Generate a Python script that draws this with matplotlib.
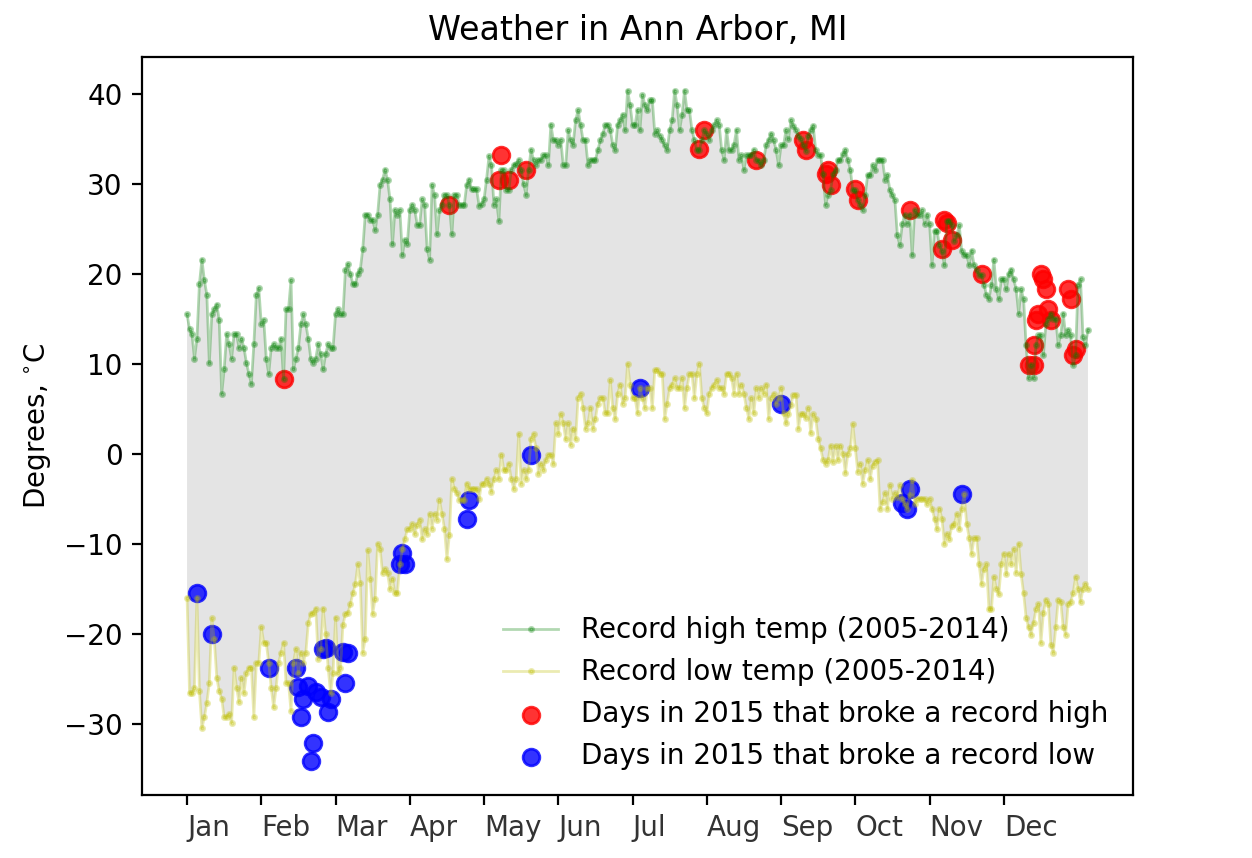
import matplotlib
matplotlib.use('Agg')
import matplotlib.pyplot as plt
import numpy as np

# record highs / lows per day of year (2005-2014)
highs = [
    15.5, 13.9, 13.3, 10.6, 12.8, 18.9, 21.6, 19.3, 17.7, 10.1,
    15.5, 16.1, 16.6, 14.9, 6.7, 9.4, 13.3, 12.2, 10.6, 13.3,
    13.3, 11.8, 12.8, 11.8, 10.1, 8.9, 7.8, 12.2, 17.7, 18.4,
    14.4, 14.9, 10.6, 8.9, 11.8, 12.2, 11.8, 11.8, 12.8, 8.3,
    16.1, 16.1, 19.3, 9.4, 10.6, 11.8, 14.4, 15.5, 14.4, 12.8,
    10.6, 10.1, 10.6, 12.2, 11.1, 9.4, 11.1, 12.2, 11.8, 11.8,
    15.5, 16.1, 15.5, 15.5, 20.5, 21.1, 20.0, 18.9, 18.9, 20.0,
    20.5, 22.8, 26.6, 26.6, 26.0, 26.0, 24.9, 26.6, 29.9, 30.5,
    31.6, 30.5, 28.3, 23.3, 27.1, 26.6, 27.1, 22.1, 23.8, 23.3,
    27.1, 27.7, 27.1, 25.5, 25.5, 28.3, 27.7, 22.8, 21.6, 29.9,
    28.8, 24.4, 27.1, 27.7, 28.8, 28.8, 27.7, 24.4, 28.8, 28.8,
    27.7, 27.7, 27.7, 29.9, 30.5, 29.4, 29.4, 29.4, 27.6, 27.8,
    28.3, 30.5, 33.1, 32.1, 27.7, 28.3, 25.9, 31.6, 31.6, 29.3,
    29.3, 31.6, 32.1, 32.2, 32.7, 31.6, 30.0, 28.8, 31.6, 33.8,
    32.7, 32.1, 32.7, 32.7, 33.2, 33.2, 32.1, 36.6, 34.9, 34.9,
    34.4, 34.9, 32.1, 32.1, 36.0, 34.9, 34.4, 37.1, 38.2, 36.6,
    34.9, 34.9, 32.1, 32.7, 32.7, 32.7, 33.8, 34.9, 35.6, 36.6,
    36.6, 36.0, 34.4, 33.8, 36.6, 37.1, 37.7, 36.0, 40.4, 38.8,
    36.6, 36.6, 38.2, 36.0, 39.9, 38.8, 38.2, 39.3, 39.3, 35.6,
    36.0, 35.4, 34.9, 34.3, 33.8, 36.0, 37.1, 40.4, 38.8, 36.0,
    37.7, 40.4, 38.2, 38.2, 36.0, 34.9, 33.8, 33.8, 34.9, 36.0,
    35.6, 34.9, 36.0, 36.6, 37.1, 36.6, 33.8, 32.7, 36.0, 33.8,
    33.8, 34.4, 36.0, 32.7, 33.2, 31.6, 33.2, 33.2, 33.2, 33.8,
    32.7, 32.6, 32.1, 32.7, 34.4, 34.9, 35.6, 34.9, 33.8,
    32.1, 34.3, 34.3, 36.0, 35.0, 37.1, 36.5, 36.0, 35.4, 35.0,
    34.3, 33.7, 35.4, 36.0, 36.5, 33.8, 33.2, 33.2, 31.1, 27.7,
    28.8, 29.3, 31.1, 31.6, 32.7, 32.7, 33.3, 33.8, 32.7, 31.6,
    29.3, 29.3, 28.2, 27.7, 27.1, 28.8, 31.0, 31.0, 32.1, 31.6,
    32.7, 32.7, 32.7, 30.5, 31.0, 29.3, 28.8, 28.2, 24.3, 23.2,
    25.6, 26.6, 25.6, 26.6, 22.1, 27.1, 26.6, 26.6, 27.1, 25.6,
    26.6, 25.6, 21.0, 24.8, 24.8, 23.2, 22.6, 21.0, 25.9, 25.9,
    25.4, 23.7, 24.3, 25.4, 22.6, 22.1, 22.1, 21.0, 22.6, 21.0,
    20.4, 19.9, 19.9, 18.8, 17.7, 17.2, 18.8, 21.6, 18.3, 17.2,
    19.4, 19.4, 18.3, 20.0, 20.5, 19.4, 18.3, 15.6, 18.3, 17.2,
    12.1, 8.4, 9.9, 8.4, 12.1, 13.2, 13.2, 11.0, 14.4, 15.0,
    15.6, 15.0, 15.0, 12.1, 13.2, 15.6, 13.2, 13.8, 13.2, 9.9,
    11.0, 18.8, 19.4, 13.0, 12.1, 13.8,
]

lows = [
    -16.0, -26.6, -26.6, -26.0, -16.0, -26.4, -30.5, -29.3, -27.7, -25.5,
    -18.3, -20.6, -24.9, -26.4, -27.2, -29.3, -29.3, -28.9, -29.9, -23.8,
    -26.0, -27.6, -24.9, -26.6, -24.4, -23.8, -23.8, -29.3, -23.2, -23.2,
    -19.3, -21.0, -21.0, -23.2, -26.0, -28.2, -26.0, -23.2, -22.1, -21.0,
    -25.5, -25.5, -28.6, -23.2, -21.7, -24.4, -22.1, -23.2, -22.1, -18.8,
    -17.8, -17.7, -17.2, -22.8, -21.7, -17.2, -20.0, -23.8, -26.6, -24.4,
    -18.2, -24.4, -23.8, -19.0, -17.8, -17.7, -16.7, -15.5, -14.5, -12.3,
    -14.4, -22.1, -20.6, -10.7, -13.9, -17.8, -16.1, -10.0, -10.6, -13.3,
    -12.8, -13.3, -15.0, -13.9, -15.5, -15.5, -12.2, -10.6, -9.5, -8.4,
    -8.3, -7.8, -8.9, -7.9, -7.3, -9.5, -8.4, -8.9, -6.7, -8.3,
    -6.7, -7.3, -5.1, -6.7, -8.3, -11.7, -9.0, -2.8, -3.9, -4.4,
    -5.1, -5.1, -5.1, -3.3, -3.9, -3.9, -3.9, -3.9, -5.0,
    -3.4, -3.3, -2.8, -3.4, -4.2, -2.8, -1.8, -2.8, -0.1, -1.8,
    -1.8, -1.1, -2.8, -3.9, -2.8, 2.2, -3.3, -1.8, -2.8, -1.8,
    1.6, 2.2, 0.6, -2.2, -1.1, -1.8, -0.7, -0.1, -0.1, -1.1,
    3.4, 2.2, 4.4, 3.4, 1.6, 3.4, 1.0, 2.8, 1.6, 6.2,
    6.7, 5.1, 2.8, 3.4, 5.1, 2.8, 3.9, 5.6, 6.2, 6.2,
    4.5, 4.5, 8.2, 5.1, 3.9, 6.7, 7.7, 5.6, 6.2, 10.0,
    7.7, 6.2, 6.2, 4.5, 7.3, 6.2, 5.1, 7.3, 7.3, 5.1,
    9.3, 9.3, 8.9, 8.9, 3.9, 5.6, 7.3, 7.7, 8.4, 7.3,
    7.3, 8.4, 5.1, 7.3, 8.9, 8.9, 6.2, 8.9, 10.0, 6.2,
    5.1, 4.5, 6.7, 7.3, 7.7, 8.2, 7.3, 7.3, 6.7, 8.9,
    8.9, 8.4, 6.7, 8.9, 6.7, 7.7, 6.7, 5.1, 3.9, 6.2,
    4.5, 7.3, 6.2, 7.3, 6.7, 7.7, 3.9, 6.2, 6.7, 5.6,
    6.2, 7.3,
    4.5, 3.4, 4.4, 5.4, 6.6, 6.6, 2.8, 4.4, 4.4, 4.0,
    5.1, 2.3, 4.4, 3.9, 1.7, 0.6, -0.7, -1.1, -0.7, 0.9,
    -0.9, 0.9, -0.7, 0.9, 0.0, -2.1, 0.0, 0.6, 3.3, 0.6,
    -2.0, -1.1, -3.3, -1.8, -0.7, -2.8, -1.3, -0.9, -0.7, -6.1,
    -5.4, -4.4, -6.1, -3.5, -5.0, -4.4, -4.8, -3.5, -5.0, -5.6,
    -6.1, -4.6, -2.9, -5.6, -5.0, -5.0, -5.0, -5.0, -5.6, -5.0,
    -6.1, -7.2, -8.4, -6.1, -7.2, -10.0, -8.9, -9.5, -8.0, -7.8,
    -6.7, -8.4, -6.1, -4.5, -7.8, -9.3, -11.1, -9.4, -9.4, -12.3,
    -14.5, -12.8, -12.3, -17.3, -17.3, -13.7, -15.0, -15.6, -12.3, -11.1,
    -13.4, -11.1, -12.3, -10.6, -13.2, -10.0, -13.4, -15.5, -18.2, -19.3,
    -20.1, -18.8, -17.3, -16.7, -21.0, -17.7, -16.2, -16.7, -21.2, -22.1,
    -19.3, -16.2, -16.5, -19.3, -20.1, -16.7, -16.5, -15.5, -13.7, -15.0,
    -16.5, -15.0, -14.5, -15.0,
]

# 2015 days that broke the records
broke_high_days = [39, 106, 126, 127, 130, 137, 207, 209, 230, 249, 250,
                   258, 259, 260, 270, 271, 292, 305, 306, 307, 309, 321,
                   340, 342, 342, 343, 344, 345, 346, 347, 348, 349, 356,
                   357, 358, 359]
broke_high_vals = [8.3, 27.7, 30.5, 33.2, 30.5, 31.6, 33.9, 36.0, 32.7, 34.9, 33.8,
                   31.1, 31.6, 29.9, 29.4, 28.2, 27.1, 22.8, 26.0, 25.7, 23.8, 20.0,
                   9.9, 9.9, 12.1, 14.9, 15.5, 20.0, 19.4, 18.3, 16.1, 14.9, 18.3,
                   17.2, 11.0, 11.7]
broke_low_days = [4, 10, 33, 44, 45, 46, 47, 49, 50, 51, 52, 54, 55, 56, 57,
                  58, 63, 64, 65, 86, 87, 88, 113, 114, 139, 183, 240, 289,
                  291, 292, 313]
broke_low_vals = [-15.5, -20.0, -23.8, -23.8, -25.9, -29.3, -27.2, -25.8, -34.2,
                  -32.1, -26.5, -27.0, -21.7, -21.6, -28.7, -27.2, -22.0, -25.5,
                  -22.1, -12.3, -11.0, -12.3, -7.2, -5.1, -0.1, 7.3, 5.6, -5.5,
                  -6.1, -3.9, -4.5]

months = ['Jan', 'Feb', 'Mar', 'Apr', 'May', 'Jun',
          'Jul', 'Aug', 'Sep', 'Oct', 'Nov', 'Dec']

days = np.arange(len(highs))

fig = plt.figure(figsize=(6.26, 4.29), dpi=200)
ax = fig.add_axes([142 / 1252, 1 - 795 / 858, 991 / 1252, 738 / 858])

ax.plot(days, highs, '.-', color='g', alpha=0.3, lw=1, ms=3,
        label='Record high temp (2005-2014)')
ax.plot(days, lows, '.-', color='y', alpha=0.3, lw=1, ms=3,
        label='Record low temp (2005-2014)')
ax.fill_between(days, lows, highs, facecolor='gray', alpha=0.21)
ax.scatter(broke_high_days, broke_high_vals, color='r', alpha=0.8,
           label='Days in 2015 that broke a record high')
ax.scatter(broke_low_days, broke_low_vals, color='b', alpha=0.8,
           label='Days in 2015 that broke a record low')

ax.set_xticks(range(0, 360, 30))
ax.set_xticklabels(months, ha='left', color='#333333')
ax.set_ylabel('Degrees, $^{\\circ}$C')
ax.set_title('Weather in Ann Arbor, MI')
ax.legend(loc=4, frameon=False)

fig.savefig('out.png', dpi=200)
